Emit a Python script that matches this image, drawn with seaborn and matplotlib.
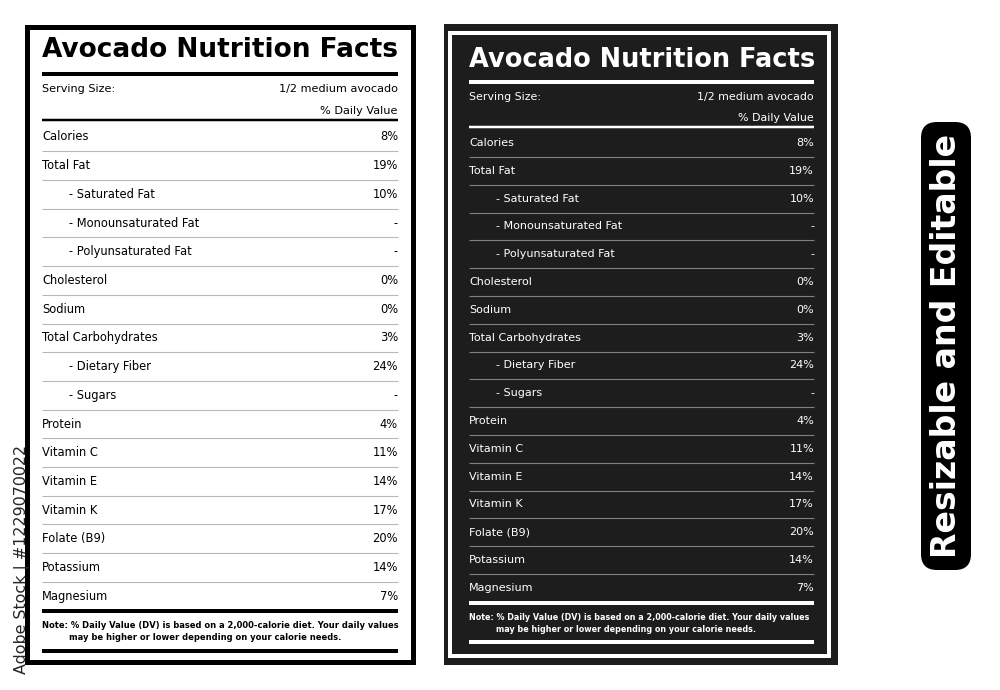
import matplotlib
matplotlib.use("Agg")
import matplotlib.pyplot as plt
import seaborn as sns
from matplotlib.patches import Rectangle, FancyBboxPatch

# label content
title = "Avocado Nutrition Facts"
serving_label = "Serving Size:"
serving_value = "1/2 medium avocado"
dv_header = "% Daily Value"
nutrients = ["Calories", "Total Fat", "Saturated Fat", "Monounsaturated Fat",
             "Polyunsaturated Fat", "Cholesterol", "Sodium", "Total Carbohydrates",
             "Dietary Fiber", "Sugars", "Protein", "Vitamin C", "Vitamin E",
             "Vitamin K", "Folate (B9)", "Potassium", "Magnesium"]
sub_item = [False, False, True, True, True, False, False, False,
            True, True, False, False, False, False, False, False, False]
daily_value = [8, 19, 10, None, None, 0, 0, 3, 24, None, 4, 11, 14, 17, 20, 14, 7]
note_lines = ["Note: % Daily Value (DV) is based on a 2,000-calorie diet. Your daily values",
              "may be higher or lower depending on your calorie needs."]
badge_text = "Resizable and Editable"
stock_text = "Adobe Stock | #1229070022"

sns.set_theme(style="white")
plt.rcParams['font.family'] = ['DejaVu Sans']

fig = plt.figure(figsize=(10, 6.9), dpi=100)
ax = fig.add_axes([0, 0, 1, 1])
ax.set_xlim(0, 1000)
ax.set_ylim(690, 0)
ax.axis("off")
renderer = fig.canvas.get_renderer()


def px(w):
    return w * 0.72


def fit(t, target, vertical=False):
    # scale the font so the text spans target pixels
    bb = t.get_window_extent(renderer)
    size = bb.height if vertical else bb.width
    t.set_fontsize(t.get_fontsize() * target / size)
    return t.get_fontsize()


def draw_label(x0, x1, fg, sep, cfg):
    t = ax.text(x0, cfg["title_y"], title, color=fg, fontsize=20, fontweight="heavy",
                va="center", ha="left")
    fit(t, x1 - x0)
    ax.hlines(cfg["title_line"], x0, x1, color=fg, lw=px(4))

    t = ax.text(x1, cfg["serving_y"], serving_value, color=fg, fontsize=8,
                ha="right", va="center")
    fs = fit(t, cfg["serving_w"])
    ax.text(x0, cfg["serving_y"], serving_label, color=fg, fontsize=fs, ha="left", va="center")
    ax.text(x1, cfg["dv_y"], dv_header, color=fg, fontsize=fs, ha="right", va="center")
    ax.hlines(cfg["dv_line"], x0, x1, color=fg, lw=px(2.5))

    probe = ax.text(0, -100, "Total Carbohydrates", fontsize=8)
    row_fs = fit(probe, cfg["row_w"])
    probe.remove()

    y0, step = cfg["row0"], cfg["step"]
    for i, (name, sub, v) in enumerate(zip(nutrients, sub_item, daily_value)):
        y = y0 + i * step
        label = "- " + name if sub else name
        xl = x0 + 27 if sub else x0
        ax.text(xl, y, label, color=fg, fontsize=row_fs, ha="left", va="center")
        val = "-" if v is None else f"{v}%"
        ax.text(x1, y, val, color=fg, fontsize=row_fs, ha="right", va="center")
        if i < len(nutrients) - 1:
            ax.hlines(y + step / 2, x0, x1, color=sep, lw=px(1.1))

    last = y0 + (len(nutrients) - 1) * step
    ax.hlines(last + 15, x0, x1, color=fg, lw=px(4))
    t = ax.text(x0, cfg["note_y"][0], note_lines[0], color=fg, fontsize=6,
                fontweight="semibold", ha="left", va="center")
    nfs = fit(t, x1 - x0)
    ax.text(x0 + 27, cfg["note_y"][1], note_lines[1], color=fg, fontsize=nfs,
            fontweight="semibold", ha="left", va="center")
    ax.hlines(cfg["end_line"], x0, x1, color=fg, lw=px(4))


# left white label with black frame
ax.add_patch(Rectangle((26.5, 26.5), 386, 635, facecolor="white",
                       edgecolor="black", lw=px(5)))
draw_label(42, 398, "black", "#b8b8b8",
           dict(title_y=50, title_line=74, serving_y=89, serving_w=120, dv_y=111,
                dv_line=120, row_w=116, row0=137, step=28.7,
                note_y=(626, 637), end_line=651))

# right dark label
ax.add_patch(Rectangle((444, 24), 394, 641, facecolor="#1d1d1d", edgecolor="none"))
ax.add_patch(Rectangle((450, 33), 379, 623, facecolor="none", edgecolor="white", lw=px(4)))
draw_label(469, 814, "white", "#808080",
           dict(title_y=60, title_line=82, serving_y=97, serving_w=117, dv_y=118,
                dv_line=127, row_w=112, row0=143, step=27.8,
                note_y=(617, 629), end_line=642))

# badge
ax.add_patch(FancyBboxPatch((921, 122), 50, 448, boxstyle="round,pad=0,rounding_size=16",
                            facecolor="black", edgecolor="none"))
t = ax.text(946, 346, badge_text, color="white", fontsize=20, fontweight="bold",
            rotation=90, ha="center", va="center")
fit(t, 425, vertical=True)

# vertical stock id
t = ax.text(22, 559, stock_text, color="#262626", fontsize=12,
            family=["Liberation Sans Narrow", "DejaVu Sans"],
            rotation=90, ha="center", va="center")
fit(t, 228, vertical=True)

fig.savefig("out.png", dpi=100, facecolor="white")
